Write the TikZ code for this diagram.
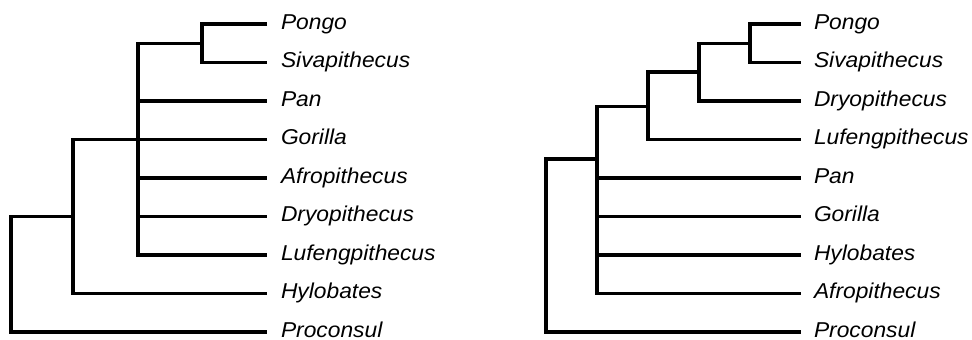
\documentclass[tikz,border=0pt]{standalone}
\usepackage{fontspec}
\setmainfont{Liberation Sans}
\begin{document}
\begin{tikzpicture}[x=1pt,y=-1pt,
  branch/.style={line width=3.2pt,line join=miter,black},
  taxon/.style={anchor=base west,inner sep=0pt,outer sep=0pt,xscale=1.06,
    font=\fontsize{21.5}{25}\selectfont\itshape}]
\useasboundingbox (0,0) rectangle (972,340);

% ---------- left tree ----------
\foreach \nm/\yy in {pongo/24,siva/62.5,pan/101,gor/139.5,afro/178,dryo/216.5,lufe/255,hylo/293.5,proc/332}
  \coordinate (A-\nm) at (267,\yy);
\node[taxon] (Ta-pongo) at (281,29) {Pongo};
\node[taxon] (Ta-siva)  at (281,67.5) {Sivapithecus};
\node[taxon] (Ta-pan)   at (281,106) {Pan};
\node[taxon] (Ta-gor)   at (281,144.5) {Gorilla};
\node[taxon] (Ta-afro)  at (281,183) {Afropithecus};
\node[taxon] (Ta-dryo)  at (281,221.5) {Dryopithecus};
\node[taxon] (Ta-lufe)  at (281,260) {Lufengpithecus};
\node[taxon] (Ta-hylo)  at (281,298.5) {Hylobates};
\node[taxon] (Ta-proc)  at (281,337) {Proconsul};

\coordinate (a1) at (202,43.25);
\coordinate (a2) at (138,43.25);
\coordinate (a3) at (73,216.5);
\coordinate (a0) at (11,332);

\draw[branch] (A-pongo) -| (a1) |- (A-siva);
\draw[branch] (a1) -- (a2) |- (A-lufe);
\foreach \nm in {pan,afro,dryo}
  \draw[branch] (a2 |- A-\nm) -- (A-\nm);
\draw[branch] (A-gor) -| (a3) |- (A-hylo);
\draw[branch] (a3) -| (a0) -- (A-proc);

% ---------- right tree ----------
\foreach \nm/\yy in {pongo/24,siva/62.5,dryo/101,lufe/139.5,pan/178,gor/216.5,hylo/255,afro/293.5,proc/332}
  \coordinate (B-\nm) at (801,\yy);
\node[taxon] (Tb-pongo) at (814,29) {Pongo};
\node[taxon] (Tb-siva)  at (814,67.5) {Sivapithecus};
\node[taxon] (Tb-dryo)  at (814,106) {Dryopithecus};
\node[taxon] (Tb-lufe)  at (814,144.5) {Lufengpithecus};
\node[taxon] (Tb-pan)   at (814,183) {Pan};
\node[taxon] (Tb-gor)   at (814,221.5) {Gorilla};
\node[taxon] (Tb-hylo)  at (814,260) {Hylobates};
\node[taxon] (Tb-afro)  at (814,298.5) {Afropithecus};
\node[taxon] (Tb-proc)  at (814,337) {Proconsul};

\coordinate (b1) at (750,43.25);
\coordinate (b2) at (699,72);
\coordinate (b3) at (648,106.5);
\coordinate (b4) at (597,159);
\coordinate (b0) at (546,332);

\draw[branch] (B-pongo) -| (b1) |- (B-siva);
\draw[branch] (b1) -| (b2) |- (B-dryo);
\draw[branch] (b2) -| (b3) |- (B-lufe);
\draw[branch] (b3) -| (b4) |- (B-afro);
\foreach \nm in {pan,gor,hylo}
  \draw[branch] (b4 |- B-\nm) -- (B-\nm);
\draw[branch] (b4) -| (b0) -- (B-proc);
\end{tikzpicture}
\end{document}
